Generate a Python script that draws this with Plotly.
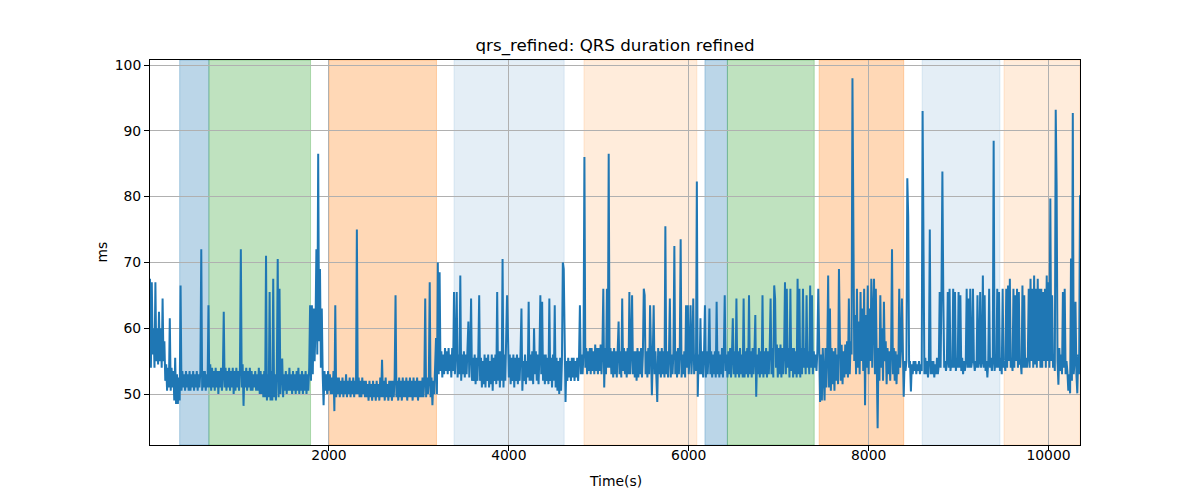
import numpy as np
import plotly.graph_objects as go

# ---------------- data ----------------
sample_start_s = 10
sample_step_s = 10

qrs_ms = [
    # 10 .. 300 s
    67.5, 54, 67, 56, 60, 54, 67, 55, 60, 54.5, 62.5, 55, 60, 54, 64.5,
    55, 58, 52, 54.5, 50.5, 54, 51, 61.5, 50.5, 54, 51, 53.5, 49, 55.5, 48.5,
    # 310 .. 600 s
    53, 48.5, 52.5, 49, 66.5, 50.5, 53.5, 51, 53, 50.5, 53.5, 51, 53, 50.5, 53.5,
    50.5, 53, 51, 53.5, 50.5, 53, 51, 53.5, 50.5, 53, 51, 53.5, 72, 50.5, 53.5,
    # 610 .. 900 s
    51, 53.5, 50.5, 53, 51, 63.5, 51, 54.5, 50.5, 54, 51, 53.5, 50.5, 54, 51,
    53.5, 50, 53.5, 51, 54, 50.5, 53, 62.5, 51, 54, 50.5, 53.5, 51, 54, 50.5,
    # 910 .. 1200 s
    53.5, 51, 54, 50, 53.5, 50.5, 54, 51, 53.5, 50.5, 54, 72, 51, 54.5, 48.2,
    53.5, 51, 54, 50.5, 53.5, 51, 54, 50.5, 53.5, 50.5, 53, 51, 53.5, 50.5, 53,
    # 1210 .. 1500 s
    50.5, 54, 50, 53.5, 50, 53, 49.5, 53.5, 49.5, 71, 49, 53, 49.5, 65.5, 49,
    53.5, 49, 67.5, 49.5, 53, 49, 53.5, 70.5, 49.5, 66, 50, 53.5, 55.4, 49.5, 53,
    # 1510 .. 1800 s
    50.5, 53.5, 50, 53, 50.5, 54, 50.5, 53, 50, 53.5, 50.5, 53, 50, 53.5, 50.5,
    54, 50, 53, 50.5, 53.5, 50, 53, 50.5, 53.5, 50, 53, 50.5, 54, 63.5, 52,
    # 1810 .. 2100 s
    63.5, 53, 63, 55, 60, 72, 56, 86.5, 58, 69, 54, 63, 53, 48.3, 53.5,
    50.5, 53, 50, 53.5, 50.5, 53, 50, 52.5, 50, 53.5, 47.4, 63.5, 49.5, 52.5, 50,
    # 2110 .. 2400 s
    52.5, 49.5, 52, 50, 52.5, 49.5, 52, 50, 53, 49.5, 52, 50, 52.5, 49.5, 52,
    50, 52.5, 49.5, 52, 50, 75, 50, 52.5, 49.5, 52, 49.5, 52.5, 50, 52, 49.5,
    # 2410 .. 2700 s
    52, 49.5, 51.5, 49, 52, 49.5, 51.5, 49, 52, 49.5, 51.5, 49, 52, 49.5, 51.5,
    49, 52.5, 49.5, 55.2, 49.5, 52, 49, 52.5, 49.5, 51.5, 49, 52, 49.5, 52, 49,
    # 2710 .. 3000 s
    52, 49.5, 52.5, 65, 49.5, 52, 49, 52.5, 49.5, 52, 49, 52.5, 49.5, 52, 49.5,
    52.5, 49, 52, 49.5, 52.5, 49.5, 52, 49, 52.5, 49.5, 52, 49.5, 52.5, 49, 52,
    # 3010 .. 3300 s
    49.5, 52, 49.5, 52.5, 49.5, 52, 64.5, 49.5, 52.5, 50, 52, 67, 49.5, 52.5, 48.3,
    52, 50, 53, 58.5, 50, 70, 53, 68.5, 53.5, 56.5, 52.5, 56, 53, 57, 53.5,
    # 3310 .. 3600 s
    56.5, 53, 57, 53.5, 56, 52.5, 57, 53.5, 65.5, 53, 56.5, 65.5, 52.5, 56, 53,
    68, 52, 56, 53, 56.5, 52.5, 56, 53, 57, 61, 52.5, 56, 64.5, 52, 55.5,
    # 3610 .. 3900 s
    52, 56, 51.5, 55.5, 52, 56, 65, 52, 55.5, 51, 55, 51.5, 56, 51, 55.5,
    52, 56, 51, 55, 51.5, 56, 50.5, 55.5, 52, 56, 51.5, 65.5, 52, 56.5, 51,
    # 3910 .. 4200 s
    56.5, 52, 70.5, 51, 56, 52, 57, 65, 59, 52.5, 56, 51.5, 55.5, 52, 56,
    51, 55.5, 52, 56, 51.5, 55.5, 52, 56.5, 63, 50.5, 55, 52, 56, 51.5, 55,
    # 4210 .. 4500 s
    52.5, 64, 52, 56, 52, 56.5, 51.5, 60, 53, 56.5, 52, 56, 51.5, 56, 65,
    53, 64, 52, 56, 51.5, 56, 52, 55.5, 51.5, 64.5, 52, 55.5, 51, 56, 52,
    # 4510 .. 4800 s
    63.5, 51, 55.5, 50.5, 55, 50, 55.5, 50.5, 55, 70, 69, 52, 48.8, 55, 52,
    55.5, 52.5, 55, 52, 55.5, 52.5, 55.5, 52, 55, 52.5, 55.5, 52, 55.5, 63.5, 53,
    # 4810 .. 5100 s
    56, 53, 56.5, 86, 54, 57, 53, 56.5, 53.5, 57, 53, 57, 53.5, 56.5, 53,
    57.5, 53.5, 57, 53, 57, 53.5, 57.5, 53, 57, 66, 51, 57, 53, 66, 54,
    # 5110 .. 5400 s
    86.5, 54, 57, 53, 56.5, 52.5, 57, 53, 56.5, 52.5, 56, 61, 53, 56.5, 52.5,
    64.5, 53.5, 57, 53, 56.5, 52.5, 57, 53, 65.5, 53, 56.5, 65, 53, 56.5, 52.5,
    # 5410 .. 5700 s
    56.5, 52, 57, 52.5, 56.5, 53, 57, 52.5, 56, 66, 65, 53, 56.5, 52.5, 57,
    53, 63.5, 53, 49.8, 56, 63.5, 53, 56.5, 52.5, 48.8, 57, 53, 56.5, 52.5, 57,
    # 5710 .. 6000 s
    53, 56.5, 52.5, 75.5, 53, 56.5, 52.5, 56, 64.5, 52.5, 56, 53, 56.5, 72.5, 53,
    56.5, 52.5, 57, 53, 56.5, 73.5, 52.5, 56, 53, 56.5, 52.5, 63.5, 54, 63.5, 53,
    # 6010 .. 6300 s
    56, 63.5, 53, 56.5, 64.5, 53, 56, 53.5, 82.3, 49.6, 56, 53, 61.5, 53, 56.5,
    52.5, 56, 63.5, 52.5, 56.5, 53, 56, 63, 53, 56.5, 52.5, 56, 53, 56.5, 52.5,
    # 6310 .. 6600 s
    64, 53, 56.5, 52.5, 56, 53, 57, 52.5, 56, 65, 53.5, 56, 52.5, 56.5, 53,
    57, 52.5, 56, 61.5, 53, 56.5, 52.5, 64.5, 53, 56.5, 52.5, 57, 53, 56, 52.5,
    # 6610 .. 6900 s
    64.5, 52.5, 56.5, 53, 57, 52.5, 65, 53, 56.5, 52.5, 57, 53, 56, 62, 49.6,
    56, 53, 57, 52.5, 56.5, 53, 65, 52.5, 56.5, 53, 57, 52.5, 56.5, 53, 57,
    # 6910 .. 7200 s
    64.5, 53, 57, 52.5, 66.5, 64.5, 54, 57.5, 52.5, 57, 53, 57.5, 52.5, 57, 53,
    56.5, 67, 53, 66, 54, 57, 52.5, 66, 53.5, 57, 52.5, 57, 53, 56.5, 52.5,
    # 7210 .. 7500 s
    67.5, 53, 66, 52.5, 57, 53, 66, 54, 57, 53, 65, 54, 56.5, 53, 66.5,
    54, 65, 53, 56.5, 54, 56, 53.5, 56.5, 66, 52, 48.8, 56, 49, 57, 52,
    # 7510 .. 7800 s
    49, 57, 51, 56, 68, 51, 63, 50.5, 57, 51.5, 56.5, 50.5, 57, 52, 56,
    51.5, 69, 58.5, 52, 57.5, 51.5, 56.5, 52.5, 57.5, 53, 58, 52.5, 64.5, 53, 58,
    # 7810 .. 8100 s
    56, 98, 81, 55, 62, 53, 66, 54, 61, 53, 65.5, 55, 63, 53.5, 66,
    48.3, 62, 54, 66.5, 53, 63, 55, 67.5, 54, 62, 67.5, 53, 66, 55, 44.8,
    # 8110 .. 8400 s
    57, 52, 65, 54, 60, 52, 64, 55, 58, 51.5, 57, 53, 56.5, 52, 57,
    72, 53, 57, 52, 56.5, 51.5, 56, 53, 66, 54, 57, 64.5, 52, 49.6, 55,
    # 8410 .. 8700 s
    53.5, 55, 82.8, 77, 54, 55, 50.4, 54.5, 53, 55, 53.5, 55, 53, 54.5, 53.5,
    55, 53, 54.5, 53.5, 93, 61.5, 53, 55.5, 53, 55, 52.5, 55, 75, 53, 55,
    # 8710 .. 9000 s
    53, 55, 52.5, 54.5, 53, 55.5, 53, 54.5, 65.5, 54, 66, 83.8, 65, 54, 55,
    53.5, 55, 65.5, 54, 66, 53.5, 55, 54, 66, 54, 65.5, 53.5, 55.5, 54, 65.5,
    # 9010 .. 9300 s
    54, 65, 53.5, 55.5, 53, 55, 53.5, 55, 66, 54, 64.5, 54, 66, 54, 55,
    66, 55, 53.5, 55, 54, 65, 54, 55, 65.5, 54, 55, 68, 54, 65, 53.5,
    # 9310 .. 9600 s
    55, 52.5, 55, 66, 54, 55.5, 53.5, 55, 88.5, 53.5, 55, 54, 66, 54, 65.5,
    53.5, 55.5, 53, 66, 54, 55, 53.5, 66, 54, 66.5, 55, 67.5, 54, 55.5, 53.5,
    # 9610 .. 9900 s
    66, 54, 65, 55, 66, 54, 65.5, 54.5, 55, 53, 66.5, 54, 65, 54, 55.5,
    54, 55.5, 66, 54, 67.5, 55, 66, 54, 68, 54.5, 66, 54, 67.5, 55, 66,
    # 9910 .. 10200 s
    54, 66, 54, 65.5, 55, 66, 54, 68, 55, 67, 54, 79.7, 55, 65, 54,
    56, 53.5, 93.2, 81.8, 55, 51.4, 57, 53.5, 56, 53, 65.5, 54, 66, 53, 55,
    # 10210 .. 10350 s
    53.4, 50.5, 53, 50.1, 70.6, 52, 92.7, 53, 55, 64, 53, 50.1, 56, 53, 80.2,
]

time_s = sample_start_s + sample_step_s * np.arange(len(qrs_ms))

# shaded phases (start s, end s, kind)
phase_start_s = [340, 665, 2000, 3390, 4835, 6180, 6430, 7450, 8595, 9505]
phase_end_s = [665, 1795, 3195, 4615, 6090, 6430, 7395, 8390, 9460, 10350]
phase_kind = ["blue", "green", "orange", "lightblue", "lightorange",
              "blue", "green", "orange", "lightblue", "lightorange"]

x_ticks = [2000, 4000, 6000, 8000, 10000]
y_ticks = [50, 60, 70, 80, 90, 100]

# ---------------- styles ----------------
kind_fill = {
    "blue": "rgba(31,119,180,0.30)",
    "lightblue": "rgba(31,119,180,0.12)",
    "green": "rgba(44,160,44,0.30)",
    "orange": "rgba(255,127,14,0.30)",
    "lightorange": "rgba(255,127,14,0.15)",
}

FONT = "DejaVu Sans"
# the page body adds an 8px margin, so the figure is sized to compensate
FIG_W, FIG_H = 1184, 484

fig = go.Figure()
fig.add_trace(go.Scatter(
    x=time_s, y=qrs_ms, mode="lines",
    line=dict(color="#1f77b4", width=2),
    showlegend=False, hoverinfo="skip",
))

for s, e, k in zip(phase_start_s, phase_end_s, phase_kind):
    fig.add_shape(type="rect", xref="x", yref="paper", x0=s, x1=e, y0=0, y1=1,
                  fillcolor=kind_fill[k], line=dict(color=kind_fill[k], width=1),
                  layer="below")

axis_common = dict(
    showline=True, linecolor="black", linewidth=1, mirror=True,
    ticks="outside", ticklen=5, tickwidth=1, tickcolor="black",
    showgrid=True, gridcolor="#b0b0b0", gridwidth=1,
    zeroline=False, tickfont=dict(family=FONT, size=13.9, color="black"),
)

fig.update_xaxes(range=[10, 10350], tickvals=x_ticks,
                 ticktext=[str(v) for v in x_ticks], ticklabelstandoff=-8,
                 **axis_common)
fig.update_yaxes(range=[42.25, 100.76], tickvals=y_ticks,
                 ticktext=[str(v) for v in y_ticks], **axis_common)

fig.update_layout(
    width=FIG_W, height=FIG_H,
    margin=dict(l=142, r=112, t=52, b=47),
    paper_bgcolor="white", plot_bgcolor="white",
    font=dict(family=FONT, color="black"),
    title=dict(text="qrs_refined: QRS duration refined", x=607 / FIG_W, xref="container",
               xanchor="center", y=1 - 37 / FIG_H, yref="container", yanchor="middle",
               font=dict(family=FONT, size=16.7, color="black")),
    annotations=[
        dict(text="Time(s)", xref="paper", yref="paper", x=0.5, y=0,
             yshift=-36, xanchor="center", yanchor="middle", showarrow=False,
             font=dict(family=FONT, size=13.9, color="black")),
        dict(text="ms", xref="paper", yref="paper", x=0, y=0.5,
             xshift=-49, xanchor="center", yanchor="middle", textangle=-90,
             showarrow=False, font=dict(family=FONT, size=13.9, color="black")),
    ],
)

fig.write_html("out.html")
